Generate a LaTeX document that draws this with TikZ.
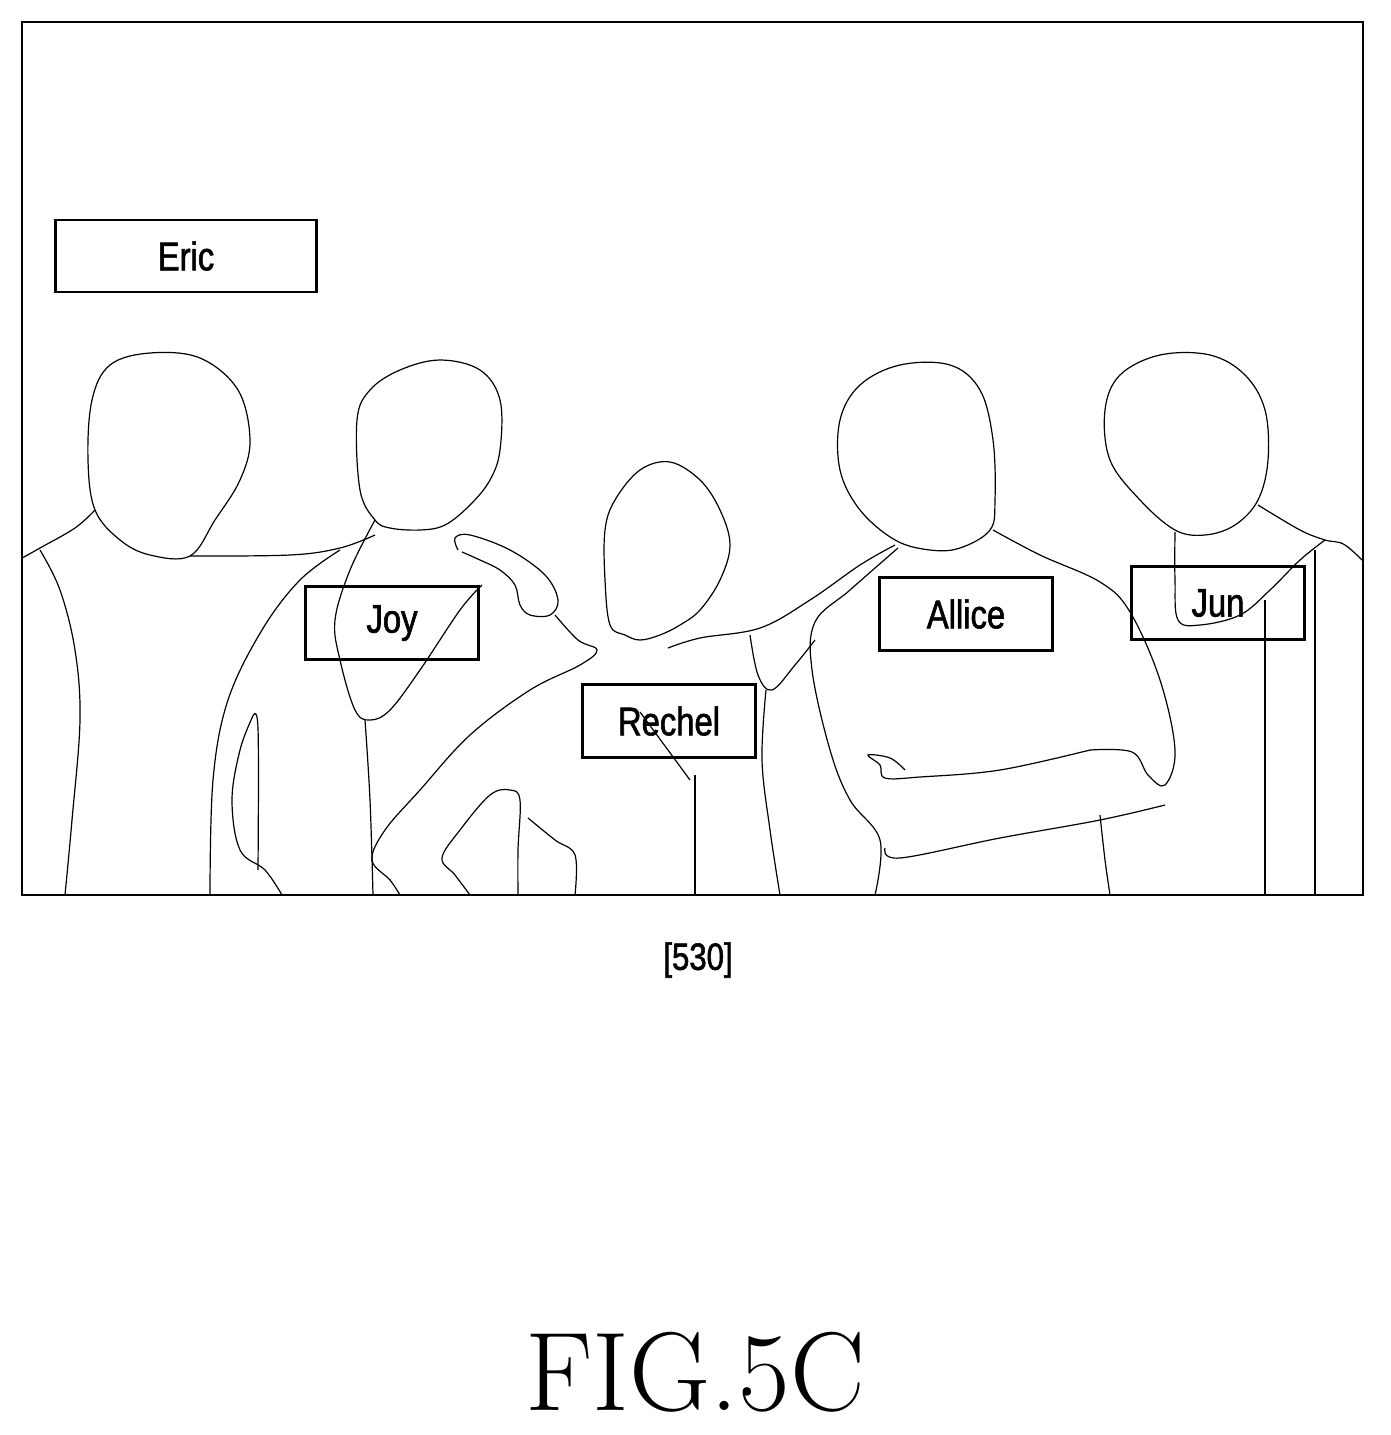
\documentclass[tikz,border=0pt]{standalone}
\usepackage{fontspec}
\newfontfamily\labelfont[FakeStretch=0.82,FakeBold=1.5]{Liberation Sans}
\usetikzlibrary{positioning}

\begin{document}
\begin{tikzpicture}[x=1pt,y=-1pt]
    \tikzset{
      outline/.style={line width=1.2pt},
      namebox/.style={draw,line width=2.2pt,minimum width=173pt,minimum height=73pt,
        inner sep=0pt,font=\fontsize{40}{44}\labelfont},
    }
    \useasboundingbox (0,0) rectangle (1391,1435);

    % PEOPLE
    \begin{scope}
    \clip (22,22) rectangle (1363,895);
    % Eric
    \draw[outline] plot[smooth cycle,tension=0.6] coordinates {(190,556) (150,555) (120,540) (95,510) (88,460) (92,400) (110,365) (150,353) (200,358) (238,390) (250,440) (240,480) (215,520)};
    \draw[outline] plot[smooth,tension=0.6] coordinates {(190,556) (290,555) (340,548) (375,535)};
    \draw[outline] plot[smooth,tension=0.6] coordinates {(95,510) (75,528) (40,548) (15,562)};
    \draw[outline] plot[smooth,tension=0.6] coordinates {(40,550) (60,590) (75,650) (80,720) (72,820) (65,895)};
    \draw[outline] plot[smooth,tension=0.6] coordinates {(252,718) (240,750) (232,800) (240,850) (265,870) (282,895)};
    \draw[outline] plot[smooth,tension=0.6] coordinates {(252,718) (258,728) (258,870)};
    % Joy
    \draw[outline] plot[smooth cycle,tension=0.6] coordinates {(375,520) (360,490) (357,420) (370,390) (400,370) (440,360) (480,370) (500,400) (500,450) (490,480) (470,505) (445,525) (420,530) (390,528)};
    \draw[outline] plot[smooth,tension=0.6] coordinates {(340,550) (300,580) (262,630) (228,700) (213,780) (210,895)};
    \draw[outline] plot[smooth,tension=0.6] coordinates {(375,520) (350,570) (335,620) (340,660) (355,710) (370,720) (390,710) (420,670) (460,610) (482,585)};
    \draw[outline] plot[smooth,tension=0.6] coordinates {(365,720) (370,800) (373,895)};
    \draw[outline] plot[smooth,tension=0.6] coordinates {(458,550) (455,538) (470,535) (510,550) (545,575) (558,600) (550,615) (530,615) (520,605) (515,585) (500,570) (480,560) (462,552)};
    \draw[outline] plot[smooth,tension=0.6] coordinates {(555,615) (578,640) (597,650) (580,665) (530,690) (470,735) (420,790) (385,830) (372,860) (390,880) (400,895)};
    \draw[outline] plot[smooth,tension=0.6] coordinates {(470,895) (455,875) (442,858) (460,830) (490,795) (510,790) (520,800) (518,850) (518,895)};
    \draw[outline] plot[smooth,tension=0.6] coordinates {(528,818) (555,840) (575,855) (575,895)};
    % Rechel
    \draw[outline] plot[smooth cycle,tension=0.6] coordinates {(610,625) (605,580) (605,530) (615,500) (640,470) (670,462) (700,480) (720,510) (730,545) (720,580) (700,610) (680,625) (660,635) (640,640) (625,635)};
    \draw[outline] (640,712) -- (690,780);
    \draw[outline] (695,775) -- (695,895);
    \draw[outline] plot[smooth,tension=0.6] coordinates {(668,648) (700,638) (760,628) (810,600) (860,565) (895,545)};
    \draw[outline] plot[smooth,tension=0.6] coordinates {(750,635) (758,675) (772,690) (795,665) (815,640)};
    \draw[outline] plot[smooth,tension=0.6] coordinates {(766,690) (762,760) (770,830) (780,895)};
    % Allice
    \draw[outline] plot[smooth cycle,tension=0.6] coordinates {(895,540) (860,510) (840,470) (840,420) (860,385) (900,365) (950,365) (980,390) (993,440) (995,500) (990,530) (960,548) (930,550)};
    \draw[outline] plot[smooth,tension=0.6] coordinates {(993,530) (1040,555) (1100,582) (1130,612) (1160,680) (1175,750) (1165,785) (1148,775) (1132,752) (1090,750)};
    \draw[outline] plot[smooth,tension=0.6] coordinates {(898,548) (850,590) (815,622) (812,670) (830,750) (850,800) (880,840) (875,895)};
    \draw[outline] plot[smooth,tension=0.6] coordinates {(1090,750) (1000,770) (920,777) (885,778) (880,765) (868,755) (890,758) (905,770)};
    \draw[outline] plot[smooth,tension=0.6] coordinates {(885,848) (900,858) (1000,838) (1100,820) (1165,805)};
    \draw[outline] plot[smooth,tension=0.6] coordinates {(1100,815) (1105,860) (1110,895)};
    % Jun
    \draw[outline] plot[smooth cycle,tension=0.6] coordinates {(1175,530) (1140,500) (1110,460) (1105,410) (1120,375) (1160,355) (1210,355) (1245,375) (1265,410) (1268,460) (1258,500) (1235,525) (1205,535)};
    \draw[outline] plot[smooth,tension=0.6] coordinates {(1258,505) (1300,530) (1325,540) (1345,545) (1370,568)};
    \draw[outline] plot[smooth,tension=0.6] coordinates {(1175,532) (1175,580) (1178,620) (1200,625) (1240,615) (1270,590) (1300,560) (1325,540)};
    \draw[outline] (1315,550) -- (1315,895);
    \draw[outline] (1265,600) -- (1265,895);
    \end{scope}

    % FRAME
    \draw[line width=2.2pt] (22,22) coordinate (FA) rectangle (1363,895) coordinate (FB);

    % NAME TAGS
    \node[namebox,minimum width=261pt,minimum height=72pt,fill=white] (eric) at (186,256) {Eric};
    \node[namebox] (joy) at (392,623) {Joy};
    \node[namebox] (rechel) at (669,721) {Rechel};
    \node[namebox] (allice) at (966,614) {Allice};
    \node[namebox] (jun) at (1218,603) {Jun};

    \node[font=\fontsize{38}{42}\labelfont] (tag) at (698,960) {[530]};
    \node[font=\fontsize{112}{120}\selectfont] (fig) at (695,1372) {FIG.5C};
\end{tikzpicture}
\end{document}
